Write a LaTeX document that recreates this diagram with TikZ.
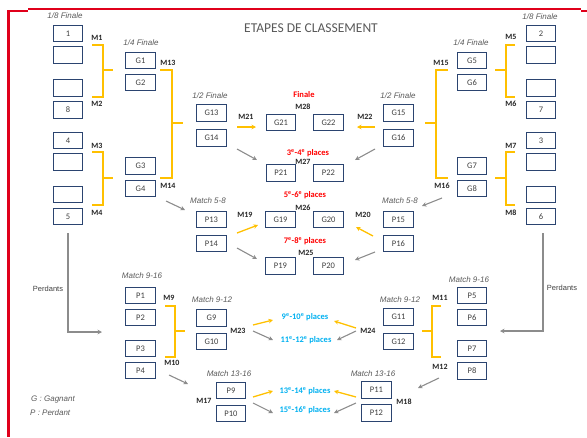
\documentclass[tikz,border=0pt]{standalone}
\usepackage{fontspec}
\setmainfont{Carlito}
\newfontfamily\arialf{Liberation Sans}
\usetikzlibrary{arrows.meta}
\definecolor{boxc}{HTML}{2B4470}
\definecolor{txtc}{HTML}{404040}
\definecolor{lblc}{HTML}{595959}
\definecolor{yel}{HTML}{FFC000}
\definecolor{gry}{HTML}{8C8C8C}
\definecolor{redc}{HTML}{FF0000}
\definecolor{cyanc}{HTML}{00B0F0}
\definecolor{borderred}{HTML}{E0001B}
\begin{document}
\begin{tikzpicture}[x=1pt,y=-1pt,
 tbox/.style={draw=boxc,line width=1.2pt,fill=white,minimum width=29.5pt,minimum height=16.5pt,inner sep=0pt,font=\fontsize{8.5}{9}\selectfont,text=txtc},
 mlab/.style={font=\bfseries\fontsize{8}{9}\selectfont,text=black!85,inner sep=0pt},
 stagelbl/.style={font=\arialf\itshape\fontsize{8}{9}\selectfont,text=lblc,inner sep=0pt},
 plabel/.style={font=\bfseries\fontsize{8.5}{9}\selectfont,inner sep=0pt},
 brk/.style={draw=yel,line width=1.3pt},
 yarr/.style={draw=yel,line width=1.3pt,-{Stealth[length=4.5pt,width=4.5pt]}},
 garr/.style={draw=gry,line width=1.1pt,-{Stealth[length=4.5pt,width=4.5pt]}}]
\useasboundingbox (0,0) rectangle (587,437);
% red frame
\draw[borderred,line width=2pt] (28,8.5) -- (581,8.5);
\draw[borderred,line width=2pt] (7,11) -- (28,11);
\draw[borderred,line width=2pt] (581,10.5) -- (587,10.5);
\draw[borderred,line width=3pt] (8.5,10) -- (8.5,437);
% title
\node[font=\fontsize{13.5}{15}\selectfont,text=lblc] (title) at (311,28) {ETAPES DE CLASSEMENT};
% left 1/8
\node[stagelbl] (l18) at (65,16) {1/8 Finale};
\node[tbox] (b1) at (68,33.5) {1};
\node[tbox] (b1b) at (68,55) {};
\node[tbox] (b8a) at (68,88) {};
\node[tbox] (b8) at (68,110) {8};
\node[tbox] (b4) at (68,140.5) {4};
\node[tbox] (b4b) at (68,162) {};
\node[tbox] (b5a) at (68,194.5) {};
\node[tbox] (b5) at (68,216.5) {5};
% right 1/8
\node[stagelbl] (r18) at (540,17) {1/8 Finale};
\node[tbox] (b2) at (541,33.5) {2};
\node[tbox] (b2b) at (541,55) {};
\node[tbox] (b7a) at (541,88) {};
\node[tbox] (b7) at (541,110) {7};
\node[tbox] (b3) at (541,140.5) {3};
\node[tbox] (b3b) at (541,162) {};
\node[tbox] (b6a) at (541,194.5) {};
\node[tbox] (b6) at (541,216.5) {6};
% 1/4
\node[stagelbl] (l14) at (141,43) {1/4 Finale};
\node[tbox] (g1) at (140.5,60.5) {G1};
\node[tbox] (g2) at (140.5,82.5) {G2};
\node[tbox] (g3) at (140.5,166) {G3};
\node[tbox] (g4) at (140.5,188.5) {G4};
\node[stagelbl] (r14) at (471,43) {1/4 Finale};
\node[tbox] (g5) at (472,60.5) {G5};
\node[tbox] (g6) at (472,82.5) {G6};
\node[tbox] (g7) at (472,166) {G7};
\node[tbox] (g8) at (472,188.5) {G8};
% 1/2
\node[stagelbl] (l12) at (210,96) {1/2 Finale};
\node[tbox] (g13) at (211.5,113) {G13};
\node[tbox] (g14) at (211.5,138) {G14};
\node[stagelbl] (r12) at (398,96) {1/2 Finale};
\node[tbox] (g15) at (398.5,113) {G15};
\node[tbox] (g16) at (398.5,138) {G16};
% finale
\node[plabel,text=redc] (fin) at (304,95) {Finale};
\node[mlab] (m28) at (303,107) {M28};
\node[tbox] (g21) at (281,122.5) {G21};
\node[tbox] (g22) at (328.5,122.5) {G22};
\node[mlab] (m21) at (246,117) {M21};
\node[mlab] (m22) at (365,117) {M22};
% 3-4
\node[plabel,text=redc] (p34) at (308,153) {3\textsuperscript{e}-4\textsuperscript{e} places};
\node[mlab] (m27) at (303,162) {M27};
\node[tbox] (p21) at (281,173) {P21};
\node[tbox] (p22) at (328.5,173) {P22};
% 5-8
\node[stagelbl] (l58) at (208,201) {Match 5-8};
\node[stagelbl] (r58) at (400,201) {Match 5-8};
\node[tbox] (p13) at (211.5,219.5) {P13};
\node[tbox] (p14) at (211.5,243.5) {P14};
\node[tbox] (p15) at (398.5,219.5) {P15};
\node[tbox] (p16) at (398.5,243.5) {P16};
\node[plabel,text=redc] (p56) at (305,195) {5\textsuperscript{e}-6\textsuperscript{e} places};
\node[mlab] (m26) at (303,208) {M26};
\node[tbox] (g19) at (280.5,219.5) {G19};
\node[tbox] (g20) at (328.5,219.5) {G20};
\node[mlab] (m19) at (245,215) {M19};
\node[mlab] (m20) at (363,215) {M20};
\node[plabel,text=redc] (p78) at (305,241) {7\textsuperscript{e}-8\textsuperscript{e} places};
\node[mlab] (m25) at (306,253) {M25};
\node[tbox] (p19) at (280.5,266) {P19};
\node[tbox] (p20) at (328.5,266) {P20};
% M labels brackets
\node[mlab] (m1) at (97,38) {M1};
\node[mlab] (m2) at (97,104) {M2};
\node[mlab] (m3) at (97,146) {M3};
\node[mlab] (m4) at (97,213) {M4};
\node[mlab] (m5) at (511,37) {M5};
\node[mlab] (m6) at (511,104) {M6};
\node[mlab] (m7) at (511,146) {M7};
\node[mlab] (m8) at (511,213) {M8};
\node[mlab] (m13) at (168,63) {M13};
\node[mlab] (m14) at (168,186) {M14};
\node[mlab] (m15) at (441,63) {M15};
\node[mlab] (m16) at (442,186) {M16};
% brackets
\coordinate (k1a) at (92,45); \coordinate (k1b) at (92,97);
\draw[brk] (k1a) -- (103,45) -- (103,97) -- (k1b); \draw[brk] (103,70) -- (113,70);
\coordinate (k3a) at (92,152); \coordinate (k3b) at (92,205);
\draw[brk] (k3a) -- (103,152) -- (103,205) -- (k3b); \draw[brk] (103,178) -- (113,178);
\coordinate (k13a) at (160,70); \coordinate (k13b) at (160,178);
\draw[brk] (k13a) -- (172,70) -- (172,178) -- (k13b); \draw[brk] (172,123) -- (183,123);
\coordinate (k5a) at (515,45); \coordinate (k5b) at (515,97);
\draw[brk] (k5a) -- (506,45) -- (506,97) -- (k5b); \draw[brk] (506,70) -- (495,70);
\coordinate (k7a) at (515,152); \coordinate (k7b) at (515,205);
\draw[brk] (k7a) -- (506,152) -- (506,205) -- (k7b); \draw[brk] (506,178) -- (495,178);
\coordinate (k15a) at (448,70); \coordinate (k15b) at (448,178);
\draw[brk] (k15a) -- (436,70) -- (436,178) -- (k15b); \draw[brk] (436,123) -- (425,123);
% top arrows
\coordinate (a21s) at (237,127); \coordinate (a21e) at (256,127);
\draw[yarr] (a21s) -- (a21e);
\coordinate (a22s) at (375,127); \coordinate (a22e) at (357,127);
\draw[yarr] (a22s) -- (a22e);
\coordinate (a27ls) at (237,149); \coordinate (a27le) at (257,160);
\draw[garr] (a27ls) -- (a27le);
\coordinate (a27rs) at (375,149); \coordinate (a27re) at (355,160);
\draw[garr] (a27rs) -- (a27re);
\coordinate (a14s) at (166,201); \coordinate (a14e) at (185,210);
\draw[garr] (a14s) -- (a14e);
\coordinate (a16s) at (442,198); \coordinate (a16e) at (422,206);
\draw[garr] (a16s) -- (a16e);
\coordinate (a19s) at (237,233); \coordinate (a19e) at (258,225);
\draw[yarr] (a19s) -- (a19e);
\coordinate (a20s) at (373,236); \coordinate (a20e) at (356,227);
\draw[yarr] (a20s) -- (a20e);
\coordinate (a25ls) at (237,248); \coordinate (a25le) at (257,259);
\draw[garr] (a25ls) -- (a25le);
\coordinate (a25rs) at (375,252); \coordinate (a25re) at (355,260);
\draw[garr] (a25rs) -- (a25re);
% perdants
\node[font=\arialf\fontsize{7.5}{8}\selectfont,text=txtc,inner sep=0pt] (perl) at (48,289) {Perdants};
\node[font=\arialf\fontsize{7.5}{8}\selectfont,text=txtc,inner sep=0pt] (perr) at (562,288) {Perdants};
\coordinate (pl) at (102,332); \coordinate (pr) at (500,331);
\draw[garr] (b5.south) ++(0,8) |- (pl);
\draw[garr] (b6.south) ++(2,8) |- (pr);
% bottom left 9-16
\node[stagelbl] (l916) at (142,276) {Match 9-16};
\node[tbox] (p1) at (140.5,295.5) {P1};
\node[tbox] (p2) at (140.5,317.5) {P2};
\node[tbox] (p3) at (140.5,348.5) {P3};
\node[tbox] (p4) at (140.5,370.5) {P4};
\node[mlab] (m9) at (169,298) {M9};
\node[mlab] (m10) at (172,363) {M10};
\coordinate (k9a) at (165,306); \coordinate (k9b) at (165,357);
\draw[brk] (k9a) -- (175,306) -- (175,357) -- (k9b); \draw[brk] (175,331) -- (185,331);
\coordinate (a10s) at (169,375); \coordinate (a10e) at (188,384);
\draw[garr] (a10s) -- (a10e);
% bottom right 9-16
\node[stagelbl] (r916) at (469,280) {Match 9-16};
\node[tbox] (p5) at (472,295.5) {P5};
\node[tbox] (p6) at (472,317.5) {P6};
\node[tbox] (p7) at (472,348.5) {P7};
\node[tbox] (p8) at (472,371) {P8};
\node[mlab] (m11) at (440,298) {M11};
\node[mlab] (m12) at (440,367) {M12};
\coordinate (k11a) at (441,306); \coordinate (k11b) at (441,357);
\draw[brk] (k11a) -- (432,306) -- (432,357) -- (k11b); \draw[brk] (432,331) -- (422,331);
\coordinate (a12s) at (439,378); \coordinate (a12e) at (418,388);
\draw[garr] (a12s) -- (a12e);
% 9-12
\node[stagelbl] (l912) at (212,300) {Match 9-12};
\node[tbox] (g9) at (211.5,318) {G9};
\node[tbox] (g10) at (211.5,341.5) {G10};
\node[stagelbl] (r912) at (400,300) {Match 9-12};
\node[tbox] (g11) at (398.5,317) {G11};
\node[tbox] (g12) at (398.5,341.5) {G12};
\node[mlab] (m23) at (238,331) {M23};
\node[mlab] (m24) at (368,331) {M24};
\node[plabel,text=cyanc] (p910) at (305,317) {9\textsuperscript{e}-10\textsuperscript{e} places};
\node[plabel,text=cyanc] (p1112) at (306,340) {11\textsuperscript{e}-12\textsuperscript{e} places};
\coordinate (a23ys) at (253,325); \coordinate (a23ye) at (273,320);
\draw[yarr] (a23ys) -- (a23ye);
\coordinate (a23gs) at (253,331); \coordinate (a23ge) at (273,340);
\draw[garr] (a23gs) -- (a23ge);
\coordinate (a24ys) at (356,328); \coordinate (a24ye) at (334,321);
\draw[yarr] (a24ys) -- (a24ye);
\coordinate (a24gs) at (356,331); \coordinate (a24ge) at (337,340);
\draw[garr] (a24gs) -- (a24ge);
% 13-16
\node[stagelbl] (l1316) at (229,374) {Match 13-16};
\node[stagelbl] (r1316) at (373,374) {Match 13-16};
\node[tbox] (p9) at (231,390.5) {P9};
\node[tbox] (p10) at (231,413.5) {P10};
\node[tbox] (p11) at (376.5,390) {P11};
\node[tbox] (p12) at (376.5,413) {P12};
\node[mlab] (m17) at (204,401) {M17};
\node[mlab] (m18) at (404,402) {M18};
\node[plabel,text=cyanc] (p1314) at (305,391) {13\textsuperscript{e}-14\textsuperscript{e} places};
\node[plabel,text=cyanc] (p1516) at (305,410) {15\textsuperscript{e}-16\textsuperscript{e} places};
\coordinate (a17ys) at (253,397); \coordinate (a17ye) at (273,391);
\draw[yarr] (a17ys) -- (a17ye);
\coordinate (a17gs) at (253,403); \coordinate (a17ge) at (273,413);
\draw[garr] (a17gs) -- (a17ge);
\coordinate (a18ys) at (356,397); \coordinate (a18ye) at (334,391);
\draw[yarr] (a18ys) -- (a18ye);
\coordinate (a18gs) at (356,403); \coordinate (a18ge) at (334,413);
\draw[garr] (a18gs) -- (a18ge);
% legend
\node[font=\arialf\itshape\fontsize{8}{9}\selectfont,text=lblc,inner sep=0pt,anchor=west] (leg1) at (31,400) {G : Gagnant};
\node[font=\arialf\itshape\fontsize{8}{9}\selectfont,text=lblc,inner sep=0pt,anchor=west] (leg2) at (30,413) {P : Perdant};
\end{tikzpicture}
\end{document}
